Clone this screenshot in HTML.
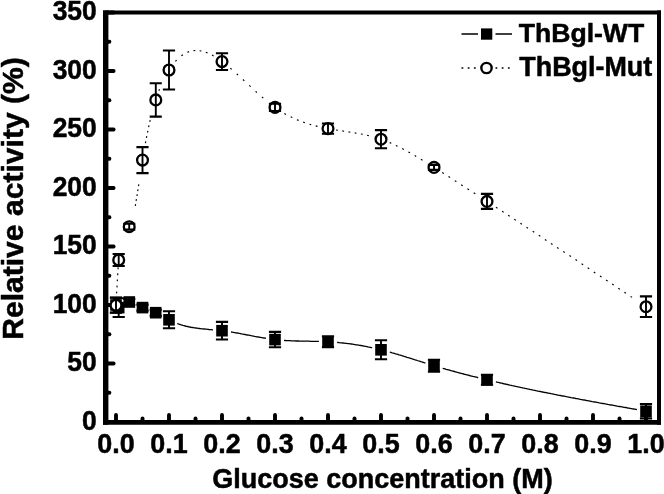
<!DOCTYPE html>
<html><head><meta charset="utf-8"><title>Relative activity vs glucose concentration</title>
<style>
html,body{margin:0;padding:0;background:#fff;}
body{width:664px;height:494px;overflow:hidden;}
svg{display:block;}
text{font-family:"Liberation Sans",Arial,Helvetica,sans-serif;font-weight:bold;fill:#000;stroke:#000;stroke-width:0.5px;stroke-linejoin:round;}
</style></head><body>
<svg width="664" height="494" viewBox="0 0 664 494">
<rect width="664" height="494" fill="#fff"/>

<g stroke="#000" fill="none" stroke-linecap="butt">
<line x1="105.7" y1="10.5" x2="105.7" y2="424.75" stroke-width="5.4"/>
<line x1="659" y1="10.5" x2="659" y2="424.75" stroke-width="4"/>
<line x1="103" y1="12.5" x2="661" y2="12.5" stroke-width="4"/>
<line x1="103" y1="422.4" x2="661" y2="422.4" stroke-width="4.7"/>
</g>
<g stroke="#000" stroke-width="3.9" stroke-linecap="round">
<line x1="116.0" y1="421" x2="116.0" y2="414.9"/>
<line x1="142.5" y1="421" x2="142.5" y2="418.5"/>
<line x1="169.0" y1="421" x2="169.0" y2="414.9"/>
<line x1="195.5" y1="421" x2="195.5" y2="418.5"/>
<line x1="222.0" y1="421" x2="222.0" y2="414.9"/>
<line x1="248.5" y1="421" x2="248.5" y2="418.5"/>
<line x1="275.0" y1="421" x2="275.0" y2="414.9"/>
<line x1="301.5" y1="421" x2="301.5" y2="418.5"/>
<line x1="328.0" y1="421" x2="328.0" y2="414.9"/>
<line x1="354.5" y1="421" x2="354.5" y2="418.5"/>
<line x1="381.0" y1="421" x2="381.0" y2="414.9"/>
<line x1="407.5" y1="421" x2="407.5" y2="418.5"/>
<line x1="434.0" y1="421" x2="434.0" y2="414.9"/>
<line x1="460.5" y1="421" x2="460.5" y2="418.5"/>
<line x1="487.0" y1="421" x2="487.0" y2="414.9"/>
<line x1="513.5" y1="421" x2="513.5" y2="418.5"/>
<line x1="540.0" y1="421" x2="540.0" y2="414.9"/>
<line x1="566.5" y1="421" x2="566.5" y2="418.5"/>
<line x1="593.0" y1="421" x2="593.0" y2="414.9"/>
<line x1="619.5" y1="421" x2="619.5" y2="418.5"/>
<line x1="646.0" y1="421" x2="646.0" y2="414.9"/>
<line x1="106" y1="422.0" x2="113.6" y2="422.0"/>
<line x1="106" y1="392.8" x2="109.4" y2="392.8"/>
<line x1="106" y1="363.5" x2="113.6" y2="363.5"/>
<line x1="106" y1="334.2" x2="109.4" y2="334.2"/>
<line x1="106" y1="305.0" x2="113.6" y2="305.0"/>
<line x1="106" y1="275.8" x2="109.4" y2="275.8"/>
<line x1="106" y1="246.5" x2="113.6" y2="246.5"/>
<line x1="106" y1="217.2" x2="109.4" y2="217.2"/>
<line x1="106" y1="188.0" x2="113.6" y2="188.0"/>
<line x1="106" y1="158.8" x2="109.4" y2="158.8"/>
<line x1="106" y1="129.5" x2="113.6" y2="129.5"/>
<line x1="106" y1="100.2" x2="109.4" y2="100.2"/>
<line x1="106" y1="71.0" x2="113.6" y2="71.0"/>
<line x1="106" y1="41.8" x2="109.4" y2="41.8"/>
<line x1="106" y1="12.5" x2="113.6" y2="12.5"/>
</g>
<g fill="none" stroke="#000" stroke-width="1.3">
<path d="M177.2 323.5 L178.3 323.9 L179.5 324.3 L180.6 324.7 L181.8 325.0 L182.9 325.4 L184.1 325.7 L185.2 326.0 L186.4 326.3 L187.6 326.5 L188.7 326.8 L189.9 327.0 L191.1 327.3 L192.3 327.5 L193.5 327.7 L194.6 327.9 L195.8 328.0 L197.0 328.2 L198.2 328.4 L199.4 328.5 L200.6 328.6 L201.8 328.8 L203.0 328.9 L204.2 329.0 L205.4 329.1 L206.6 329.2 L207.8 329.3 L209.0 329.5 L210.1 329.6 L211.3 329.7 L212.5 329.8 L213.0 329.8"/>
<path d="M231.0 332.0 L232.2 332.2 L233.4 332.4 L234.6 332.6 L235.7 332.8 L236.9 333.0 L238.1 333.2 L239.3 333.4 L240.5 333.6 L241.6 333.9 L242.8 334.1 L244.0 334.3 L245.2 334.5 L246.3 334.8 L247.5 335.0 L248.7 335.2 L249.9 335.4 L251.1 335.7 L252.2 335.9 L253.4 336.1 L254.6 336.4 L255.8 336.6 L257.0 336.8 L258.1 337.0 L259.3 337.2 L260.5 337.4 L261.7 337.6 L262.9 337.8 L264.0 338.0 L265.2 338.2 L266.0 338.4"/>
<path d="M284.0 340.4 L285.2 340.5 L286.4 340.6 L287.6 340.6 L288.8 340.7 L290.0 340.7 L291.2 340.8 L292.4 340.8 L293.6 340.9 L294.8 340.9 L296.0 341.0 L297.2 341.0 L298.4 341.0 L299.6 341.1 L300.8 341.1 L302.0 341.1 L303.2 341.1 L304.4 341.2 L305.6 341.2 L306.8 341.2 L308.0 341.2 L309.2 341.2 L310.4 341.3 L311.6 341.3 L312.8 341.3 L314.0 341.3 L315.2 341.3 L316.4 341.4 L317.6 341.4 L318.8 341.4 L318.9 341.4"/>
<path d="M337.1 342.4 L338.2 342.5 L339.4 342.7 L340.6 342.8 L341.8 342.9 L343.0 343.0 L344.2 343.1 L345.4 343.3 L346.6 343.4 L347.8 343.6 L349.0 343.7 L350.2 343.9 L351.4 344.0 L352.5 344.2 L353.7 344.4 L354.9 344.6 L356.1 344.8 L357.3 344.9 L358.5 345.1 L359.7 345.3 L360.8 345.5 L362.0 345.7 L363.2 346.0 L364.4 346.2 L365.6 346.4 L366.7 346.6 L367.9 346.9 L369.1 347.1 L370.3 347.3 L371.4 347.6 L372.2 347.7"/>
<path d="M389.8 352.1 L390.9 352.4 L392.1 352.8 L393.3 353.1 L394.4 353.4 L395.6 353.8 L396.7 354.1 L397.9 354.4 L399.0 354.8 L400.2 355.1 L401.3 355.5 L402.5 355.8 L403.6 356.2 L404.7 356.5 L405.9 356.9 L407.0 357.3 L408.2 357.6 L409.3 358.0 L410.5 358.3 L411.6 358.7 L412.8 359.0 L413.9 359.4 L415.1 359.8 L416.2 360.1 L417.3 360.5 L418.5 360.9 L419.6 361.2 L420.8 361.6 L421.9 361.9 L423.1 362.3 L424.2 362.7 L425.4 363.0 L425.4 363.0"/>
<path d="M442.7 368.3 L443.9 368.6 L445.0 368.9 L446.2 369.3 L447.3 369.6 L448.5 369.9 L449.7 370.2 L450.8 370.6 L452.0 370.9 L453.1 371.2 L454.3 371.5 L455.4 371.8 L456.6 372.1 L457.8 372.5 L458.9 372.8 L460.1 373.1 L461.2 373.4 L462.4 373.7 L463.6 374.0 L464.7 374.3 L465.9 374.6 L467.0 374.9 L468.2 375.2 L469.4 375.5 L470.5 375.8 L471.7 376.1 L472.9 376.4 L474.0 376.6 L475.2 376.9 L476.4 377.2 L477.5 377.5 L478.2 377.7"/>
<path d="M495.9 381.9 L497.1 382.2 L498.2 382.4 L499.4 382.7 L500.6 383.0 L501.8 383.2 L502.9 383.5 L504.1 383.8 L505.3 384.0 L506.4 384.3 L507.6 384.5 L508.8 384.8 L510.0 385.1 L511.1 385.3 L512.3 385.6 L513.5 385.8 L514.6 386.1 L515.8 386.4 L517.0 386.6 L518.2 386.9 L519.3 387.1 L520.5 387.4 L521.7 387.6 L522.8 387.9 L524.0 388.1 L525.2 388.4 L526.4 388.6 L527.5 388.9 L528.7 389.1 L529.9 389.4 L531.1 389.6 L532.2 389.8 L533.4 390.1 L534.6 390.3 L535.8 390.6 L536.9 390.8 L538.1 391.1 L539.3 391.3 L540.5 391.5 L541.6 391.8 L542.8 392.0 L544.0 392.3 L545.2 392.5 L546.4 392.7 L547.5 393.0 L548.7 393.2 L549.9 393.4 L551.1 393.7 L552.2 393.9 L553.4 394.1 L554.6 394.4 L555.8 394.6 L556.9 394.8 L558.1 395.1 L559.3 395.3 L560.5 395.5 L561.7 395.8 L562.8 396.0 L564.0 396.2 L565.2 396.4 L566.4 396.7 L567.5 396.9 L568.7 397.1 L569.9 397.3 L571.1 397.6 L572.3 397.8 L573.4 398.0 L574.6 398.2 L575.8 398.5 L577.0 398.7 L578.2 398.9 L579.3 399.1 L580.5 399.4 L581.7 399.6 L582.9 399.8 L584.1 400.0 L585.2 400.2 L586.4 400.5 L587.6 400.7 L588.8 400.9 L590.0 401.1 L591.1 401.3 L592.3 401.6 L593.5 401.8 L594.7 402.0 L595.9 402.2 L597.0 402.4 L598.2 402.6 L599.4 402.9 L600.6 403.1 L601.8 403.3 L602.9 403.5 L604.1 403.7 L605.3 403.9 L606.5 404.1 L607.7 404.4 L608.8 404.6 L610.0 404.8 L611.2 405.0 L612.4 405.2 L613.6 405.4 L614.7 405.6 L615.9 405.8 L617.1 406.1 L618.3 406.3 L619.5 406.5 L620.7 406.7 L621.8 406.9 L623.0 407.1 L624.2 407.3 L625.4 407.5 L626.6 407.7 L627.7 408.0 L628.9 408.2 L630.1 408.4 L631.3 408.6 L632.5 408.8 L633.6 409.0 L634.8 409.2 L636.0 409.4 L637.0 409.6"/>
</g>
<path d="M116.6 293.4L116.7 291.6M117.0 287.4L117.1 285.6M117.3 281.3L117.4 279.5M117.7 275.2L117.8 273.4M118.0 269.2L118.2 267.4M135.3 205.9L135.6 204.1M136.1 200.9L136.4 199.2M137.0 196.0L137.2 194.2M137.7 191.1L138.0 189.3M138.5 186.1L138.8 184.3M145.4 143.2L145.8 141.4M146.4 137.8L146.8 136.1M147.5 132.5L147.9 130.8M148.6 127.2L149.0 125.4M149.8 121.9L150.2 120.1M158.9 90.8L159.5 89.2M175.4 61.4L176.6 60.1M181.4 55.8L182.9 54.7M187.4 52.3L189.1 51.6M193.5 50.6L195.3 50.5M199.6 50.7L201.4 51.0M205.8 52.3L207.5 52.9M212.0 55.1L213.6 56.0M230.3 68.2L231.7 69.4M236.7 73.8L238.0 75.0M243.0 79.5L244.3 80.8M249.3 85.4L250.6 86.6M255.6 91.3L256.9 92.5M261.9 96.9L263.3 98.1M284.4 113.5L286.0 114.4M290.7 116.8L292.3 117.6M296.9 119.7L298.6 120.4M303.2 122.1L304.9 122.7M309.5 124.2L311.2 124.7M315.7 125.9L317.5 126.4M336.1 130.0L337.9 130.3M342.3 130.9L344.1 131.2M348.5 131.9L350.3 132.2M354.7 132.9L356.5 133.2M360.9 134.0L362.7 134.3M367.1 135.3L368.9 135.7M389.7 142.6L391.3 143.3M395.9 145.4L397.5 146.2M402.2 148.5L403.8 149.4M408.4 151.9L410.0 152.8M414.7 155.5L416.2 156.4M420.9 159.3L422.5 160.2M442.2 172.6L443.8 173.6M448.5 176.6L450.1 177.6M454.8 180.7L456.4 181.6M461.1 184.7L462.7 185.7M467.4 188.7L469.0 189.7M473.7 192.8L475.3 193.8M495.9 207.2L497.5 208.2M502.1 211.2L503.6 212.2M508.2 215.2L509.7 216.2M514.3 219.2L515.8 220.2M520.4 223.2L521.9 224.2M526.5 227.3L528.0 228.2M532.7 231.3L534.2 232.3M538.8 235.3L540.3 236.3M544.9 239.4L546.4 240.4M551.0 243.4L552.5 244.4M557.1 247.5L558.6 248.5M563.3 251.5L564.7 252.5M569.4 255.6L570.9 256.6M575.5 259.6L577.0 260.6M581.6 263.7L583.1 264.7M587.7 267.8L589.2 268.8M593.8 271.9L595.3 272.9M600.0 275.9L601.5 276.9M606.1 280.0L607.6 281.0M612.2 284.1L613.7 285.1M618.3 288.2L619.8 289.2M624.4 292.3L625.9 293.3M630.6 296.4L632.0 297.4" fill="none" stroke="#000" stroke-width="1.15"/>
<g>
<path d="M116.0 297.5V312.5" fill="none" stroke="#000" stroke-width="1.9"/><path d="M109.9 297.5H122.1M109.9 312.5H122.1" fill="none" stroke="#000" stroke-width="2.1"/>
<rect x="110.2" y="299.2" width="11.6" height="11.6" fill="#000"/>
<path d="M118.7 298.2V317.0" fill="none" stroke="#000" stroke-width="1.9"/><path d="M112.6 298.2H124.8M112.6 317.0H124.8" fill="none" stroke="#000" stroke-width="2.1"/>
<rect x="112.9" y="301.8" width="11.6" height="11.6" fill="#000"/>
<path d="M129.2 299.0V305.0" fill="none" stroke="#000" stroke-width="1.9"/><path d="M123.2 299.0H135.3M123.2 305.0H135.3" fill="none" stroke="#000" stroke-width="2.1"/>
<rect x="123.5" y="296.2" width="11.6" height="11.6" fill="#000"/>
<path d="M142.5 304.6V310.6" fill="none" stroke="#000" stroke-width="1.9"/><path d="M136.4 304.6H148.6M136.4 310.6H148.6" fill="none" stroke="#000" stroke-width="2.1"/>
<rect x="136.7" y="301.8" width="11.6" height="11.6" fill="#000"/>
<path d="M155.8 309.7V315.7" fill="none" stroke="#000" stroke-width="1.9"/><path d="M149.7 309.7H161.8M149.7 315.7H161.8" fill="none" stroke="#000" stroke-width="2.1"/>
<rect x="149.9" y="306.9" width="11.6" height="11.6" fill="#000"/>
<path d="M169.0 311.3V328.3" fill="none" stroke="#000" stroke-width="1.9"/><path d="M162.9 311.3H175.1M162.9 328.3H175.1" fill="none" stroke="#000" stroke-width="2.1"/>
<rect x="163.2" y="314.0" width="11.6" height="11.6" fill="#000"/>
<path d="M222.0 321.9V339.5" fill="none" stroke="#000" stroke-width="1.9"/><path d="M215.9 321.9H228.1M215.9 339.5H228.1" fill="none" stroke="#000" stroke-width="2.1"/>
<rect x="216.2" y="324.9" width="11.6" height="11.6" fill="#000"/>
<path d="M275.0 331.9V347.3" fill="none" stroke="#000" stroke-width="1.9"/><path d="M268.9 331.9H281.1M268.9 347.3H281.1" fill="none" stroke="#000" stroke-width="2.1"/>
<rect x="269.2" y="333.8" width="11.6" height="11.6" fill="#000"/>
<path d="M328.0 336.3V347.3" fill="none" stroke="#000" stroke-width="1.9"/><path d="M321.9 336.3H334.1M321.9 347.3H334.1" fill="none" stroke="#000" stroke-width="2.1"/>
<rect x="322.2" y="336.0" width="11.6" height="11.6" fill="#000"/>
<path d="M381.0 340.3V359.3" fill="none" stroke="#000" stroke-width="1.9"/><path d="M374.9 340.3H387.1M374.9 359.3H387.1" fill="none" stroke="#000" stroke-width="2.1"/>
<rect x="375.2" y="344.0" width="11.6" height="11.6" fill="#000"/>
<path d="M434.0 359.7V371.7" fill="none" stroke="#000" stroke-width="1.9"/><path d="M427.9 359.7H440.1M427.9 371.7H440.1" fill="none" stroke="#000" stroke-width="2.1"/>
<rect x="428.2" y="359.9" width="11.6" height="11.6" fill="#000"/>
<path d="M487.0 374.8V384.8" fill="none" stroke="#000" stroke-width="1.9"/><path d="M480.9 374.8H493.1M480.9 384.8H493.1" fill="none" stroke="#000" stroke-width="2.1"/>
<rect x="481.2" y="374.0" width="11.6" height="11.6" fill="#000"/>
<path d="M646.0 404.0V418.4" fill="none" stroke="#000" stroke-width="1.9"/><path d="M639.9 404.0H652.1M639.9 418.4H652.1" fill="none" stroke="#000" stroke-width="2.1"/>
<rect x="640.2" y="405.4" width="11.6" height="11.6" fill="#000"/>
</g>
<g>
<circle cx="116.0" cy="305.3" r="5.4" fill="#fff" stroke="#000" stroke-width="2.3"/>
<path d="M116.0 297.8V312.8" fill="none" stroke="#000" stroke-width="1.9"/><path d="M109.9 297.8H122.1M109.9 312.8H122.1" fill="none" stroke="#000" stroke-width="2.1"/>
<circle cx="118.7" cy="260.0" r="5.4" fill="#fff" stroke="#000" stroke-width="2.3"/>
<path d="M118.7 254.0V266.0" fill="none" stroke="#000" stroke-width="1.9"/><path d="M112.6 254.0H124.8M112.6 266.0H124.8" fill="none" stroke="#000" stroke-width="2.1"/>
<circle cx="129.2" cy="226.7" r="5.4" fill="#fff" stroke="#000" stroke-width="2.3"/>
<path d="M129.2 223.8V229.6" fill="none" stroke="#000" stroke-width="1.9"/><path d="M123.2 223.8H135.3M123.2 229.6H135.3" fill="none" stroke="#000" stroke-width="2.1"/>
<circle cx="142.5" cy="160.1" r="5.4" fill="#fff" stroke="#000" stroke-width="2.3"/>
<path d="M142.5 147.1V173.1" fill="none" stroke="#000" stroke-width="1.9"/><path d="M136.4 147.1H148.6M136.4 173.1H148.6" fill="none" stroke="#000" stroke-width="2.1"/>
<circle cx="155.8" cy="99.9" r="5.4" fill="#fff" stroke="#000" stroke-width="2.3"/>
<path d="M155.8 83.2V116.6" fill="none" stroke="#000" stroke-width="1.9"/><path d="M149.7 83.2H161.8M149.7 116.6H161.8" fill="none" stroke="#000" stroke-width="2.1"/>
<circle cx="169.0" cy="70.0" r="5.4" fill="#fff" stroke="#000" stroke-width="2.3"/>
<path d="M169.0 50.5V89.5" fill="none" stroke="#000" stroke-width="1.9"/><path d="M162.9 50.5H175.1M162.9 89.5H175.1" fill="none" stroke="#000" stroke-width="2.1"/>
<circle cx="222.0" cy="61.6" r="5.4" fill="#fff" stroke="#000" stroke-width="2.3"/>
<path d="M222.0 53.2V70.0" fill="none" stroke="#000" stroke-width="1.9"/><path d="M215.9 53.2H228.1M215.9 70.0H228.1" fill="none" stroke="#000" stroke-width="2.1"/>
<circle cx="275.0" cy="107.4" r="5.4" fill="#fff" stroke="#000" stroke-width="2.3"/>
<path d="M275.0 103.8V111.0" fill="none" stroke="#000" stroke-width="1.9"/><path d="M268.9 103.8H281.1M268.9 111.0H281.1" fill="none" stroke="#000" stroke-width="2.1"/>
<circle cx="328.0" cy="128.6" r="5.4" fill="#fff" stroke="#000" stroke-width="2.3"/>
<path d="M328.0 123.5V133.7" fill="none" stroke="#000" stroke-width="1.9"/><path d="M321.9 123.5H334.1M321.9 133.7H334.1" fill="none" stroke="#000" stroke-width="2.1"/>
<circle cx="381.0" cy="139.2" r="5.4" fill="#fff" stroke="#000" stroke-width="2.3"/>
<path d="M381.0 130.1V148.3" fill="none" stroke="#000" stroke-width="1.9"/><path d="M374.9 130.1H387.1M374.9 148.3H387.1" fill="none" stroke="#000" stroke-width="2.1"/>
<circle cx="434.0" cy="167.4" r="5.4" fill="#fff" stroke="#000" stroke-width="2.3"/>
<path d="M434.0 164.9V169.9" fill="none" stroke="#000" stroke-width="1.9"/><path d="M427.9 164.9H440.1M427.9 169.9H440.1" fill="none" stroke="#000" stroke-width="2.1"/>
<circle cx="487.0" cy="201.4" r="5.4" fill="#fff" stroke="#000" stroke-width="2.3"/>
<path d="M487.0 193.9V208.9" fill="none" stroke="#000" stroke-width="1.9"/><path d="M480.9 193.9H493.1M480.9 208.9H493.1" fill="none" stroke="#000" stroke-width="2.1"/>
<circle cx="646.0" cy="306.7" r="5.4" fill="#fff" stroke="#000" stroke-width="2.3"/>
<path d="M646.0 296.4V317.0" fill="none" stroke="#000" stroke-width="1.9"/><path d="M639.9 296.4H652.1M639.9 317.0H652.1" fill="none" stroke="#000" stroke-width="2.1"/>
</g>
<text transform="translate(116.0 453.0) scale(1.000 1.050)" font-size="26.9px" text-anchor="middle">0.0</text>
<text transform="translate(169.0 453.0) scale(1.000 1.050)" font-size="26.9px" text-anchor="middle">0.1</text>
<text transform="translate(222.0 453.0) scale(1.000 1.050)" font-size="26.9px" text-anchor="middle">0.2</text>
<text transform="translate(275.0 453.0) scale(1.000 1.050)" font-size="26.9px" text-anchor="middle">0.3</text>
<text transform="translate(328.0 453.0) scale(1.000 1.050)" font-size="26.9px" text-anchor="middle">0.4</text>
<text transform="translate(381.0 453.0) scale(1.000 1.050)" font-size="26.9px" text-anchor="middle">0.5</text>
<text transform="translate(434.0 453.0) scale(1.000 1.050)" font-size="26.9px" text-anchor="middle">0.6</text>
<text transform="translate(487.0 453.0) scale(1.000 1.050)" font-size="26.9px" text-anchor="middle">0.7</text>
<text transform="translate(540.0 453.0) scale(1.000 1.050)" font-size="26.9px" text-anchor="middle">0.8</text>
<text transform="translate(593.0 453.0) scale(1.000 1.050)" font-size="26.9px" text-anchor="middle">0.9</text>
<text transform="translate(646.0 453.0) scale(1.000 1.050)" font-size="26.9px" text-anchor="middle">1.0</text>
<text transform="translate(96.7 429.6) scale(1.000 1.070)" font-size="26.4px" text-anchor="end">0</text>
<text transform="translate(96.7 371.1) scale(1.000 1.070)" font-size="26.4px" text-anchor="end">50</text>
<text transform="translate(96.7 312.6) scale(1.000 1.070)" font-size="26.4px" text-anchor="end">100</text>
<text transform="translate(96.7 254.1) scale(1.000 1.070)" font-size="26.4px" text-anchor="end">150</text>
<text transform="translate(96.7 195.6) scale(1.000 1.070)" font-size="26.4px" text-anchor="end">200</text>
<text transform="translate(96.7 137.1) scale(1.000 1.070)" font-size="26.4px" text-anchor="end">250</text>
<text transform="translate(96.7 78.6) scale(1.000 1.070)" font-size="26.4px" text-anchor="end">300</text>
<text transform="translate(96.7 20.1) scale(1.000 1.070)" font-size="26.4px" text-anchor="end">350</text>
<text transform="translate(382.5 487.6) scale(1.000 1.030)" font-size="27.0px" text-anchor="middle">Glucose concentration (M)</text>
<text transform="translate(23.0 198.5) rotate(-90)" font-size="30.1px" text-anchor="middle">Relative activity (%)</text>
<g>
<path d="M461.5 34H478M495.5 34H512" stroke="#000" stroke-width="1.3" fill="none"/>
<rect x="481" y="28.4" width="11.3" height="11.3" fill="#000"/>
<path d="M461.5 68H478M495.5 68H512" stroke="#000" stroke-width="1.6" stroke-dasharray="1.8 4.4" fill="none"/>
<circle cx="486.5" cy="68" r="5.15" fill="#fff" stroke="#000" stroke-width="2.4"/>
<text x="518.7" y="41.6" font-size="26.6px">ThBgl-WT</text>
<text x="519.3" y="75.5" font-size="26.9px">ThBgl-Mut</text>
</g>
</svg></body></html>
